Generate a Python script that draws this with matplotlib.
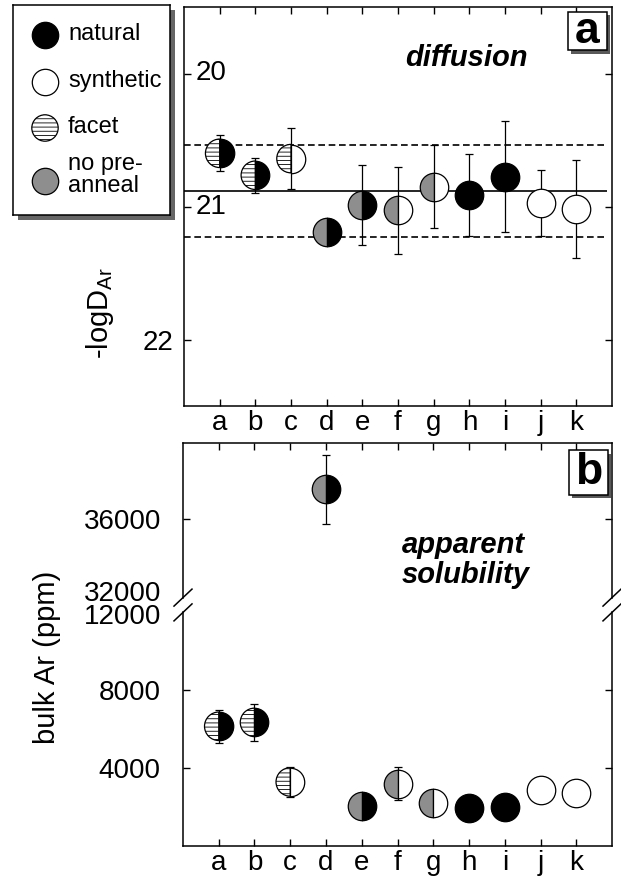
import numpy as np
import matplotlib
matplotlib.use('Agg')
import matplotlib.pyplot as plt
from matplotlib.path import Path
from matplotlib.transforms import Affine2D, blended_transform_factory
from matplotlib.patches import Rectangle
import matplotlib.patheffects as pe

plt.rcParams['font.family'] = ['Liberation Sans', 'DejaVu Sans']
plt.rcParams['mathtext.fontset'] = 'custom'
plt.rcParams['mathtext.rm'] = 'Liberation Sans'
plt.rcParams['mathtext.it'] = 'Liberation Sans:italic'
plt.rcParams['mathtext.bf'] = 'Liberation Sans:bold'
plt.rcParams['hatch.linewidth'] = 0.6

# sample data
samples = ['a', 'b', 'c', 'd', 'e', 'f', 'g', 'h', 'i', 'j', 'k']
left_type = ['facet', 'facet', 'facet', 'anneal', 'anneal', 'anneal', 'anneal',
             'natural', 'natural', 'synthetic', 'synthetic']
right_type = ['natural', 'natural', 'synthetic', 'natural', 'natural', 'synthetic',
              'synthetic', 'natural', 'natural', 'synthetic', 'synthetic']

logD = [20.60, 20.765, 20.64, 21.19, 20.99, 21.03, 20.85, 20.915, 20.775, 20.975, 21.02]
logD_err = [0.135, 0.13, 0.23, 0.0, 0.30, 0.33, 0.31, 0.31, 0.42, 0.25, 0.37]
logD_mean = 20.88
logD_band = [20.535, 21.23]

bulk_ar = [6150, 6350, 3290, 37530, 2060, 3200, 2210, 1960, 2010, 2860, 2740]
bulk_err = [860, 940, 770, 1750, 0, 850, 0, 0, 0, 0, 0]

legend_types = ['natural', 'synthetic', 'facet', 'anneal']
legend_labels = ['natural', 'synthetic', 'facet', 'no pre-\nanneal']

fills = {'natural': 'black', 'synthetic': 'white', 'facet': 'white', 'anneal': '#8e8e8e'}
hatches = {'natural': None, 'synthetic': None, 'facet': '----', 'anneal': None}

right_half = Path.unit_circle_righthalf()
left_half = right_half.transformed(Affine2D().rotate_deg(180))
msize = 20.5 ** 2
fs = 20

W, H = 621, 883
fig = plt.figure(figsize=(W / 100, H / 100), dpi=100)


def frac(left, top, right, bottom):
    return [left / W, 1 - bottom / H, (right - left) / W, (bottom - top) / H]


def draw_marker(ax, x, y, lt, rt, s=msize):
    if lt == rt:
        ax.scatter([x], [y], s=s, marker='o', facecolor=fills[lt], edgecolor='black',
                   linewidth=0.9, hatch=hatches[lt], zorder=3)
    else:
        ax.scatter([x], [y], s=s, marker=left_half, facecolor=fills[lt], edgecolor='black',
                   linewidth=0.9, hatch=hatches[lt], zorder=3)
        ax.scatter([x], [y], s=s, marker=right_half, facecolor=fills[rt], edgecolor='black',
                   linewidth=0.9, hatch=hatches[rt], zorder=3)


def style_axes(ax):
    for sp in ax.spines.values():
        sp.set_linewidth(1.1)
    ax.tick_params(direction='in', length=5, width=1, top=True, right=True,
                   labelsize=fs)


def panel_box(ax, x0, y0, w, h, letter):
    r = Rectangle((x0, y0), w, h, transform=ax.transAxes, facecolor='white',
                  edgecolor='black', linewidth=1.1, zorder=5, clip_on=False)
    r.set_path_effects([pe.withSimplePatchShadow(offset=(2.5, -2.5),
                                                 shadow_rgbFace='0.35', alpha=1)])
    ax.add_patch(r)
    ax.text(x0 + w / 2, y0 + h / 2, letter, transform=ax.transAxes, ha='center',
            va='center', fontsize=32, fontweight='bold', zorder=6)


x = np.arange(1, len(samples) + 1)

# ---- panel a: diffusion
ax1 = fig.add_axes(frac(184, 7, 612, 406))
style_axes(ax1)
ax1.set_xlim(0, 12)
ax1.set_ylim(22.5, 19.5)
ax1.set_xticks(x)
ax1.set_xticklabels(samples)
ax1.tick_params(axis='x', pad=3)
ax1.set_yticks([20, 21, 22])
ax1.set_yticklabels(['', '', '22'])
ax1.tick_params(axis='y', pad=8)
tr = blended_transform_factory(ax1.transAxes, ax1.transData)
for v in [20, 21]:
    ax1.text(0.026, v, str(v), transform=tr, ha='left', va='center', fontsize=fs)

ax1.hlines(logD_mean, 0, 11.85, colors='black', linewidth=1.2, zorder=1)
ax1.hlines(logD_band, 0, 11.85, colors='black', linewidth=1.2,
           linestyles=(0, (4, 2.2)), zorder=1)
err_idx = [i for i in range(len(x)) if logD_err[i] > 0]
ax1.errorbar(x[err_idx], np.array(logD)[err_idx], yerr=np.array(logD_err)[err_idx],
             fmt='none', ecolor='black', elinewidth=0.9, capsize=2.6, capthick=0.9, zorder=2)
for i in range(len(x)):
    draw_marker(ax1, x[i], logD[i], left_type[i], right_type[i])
ax1.text(0.659, 0.872, 'diffusion', transform=ax1.transAxes, ha='center', va='center',
         fontsize=21, fontweight='bold', fontstyle='italic')
panel_box(ax1, 0.897, 0.892, 0.091, 0.0955, 'a')

# ---- panel b: apparent solubility (broken axis)
ax2 = fig.add_axes(frac(183, 443, 612, 597.6))
ax3 = fig.add_axes(frac(183, 612.4, 612, 846))
for ax in (ax2, ax3):
    style_axes(ax)
    ax.set_xlim(0, 12)
    ax.set_xticks(x)
    ax.tick_params(axis='y', pad=16)
    err_idx = [i for i in range(len(x)) if bulk_err[i] > 0]
    ax.errorbar(x[err_idx], np.array(bulk_ar)[err_idx], yerr=np.array(bulk_err)[err_idx],
                fmt='none', ecolor='black', elinewidth=0.9, capsize=2.6, capthick=0.9, zorder=2)
    for i in range(len(x)):
        draw_marker(ax, x[i], bulk_ar[i], left_type[i], right_type[i])

ax2.set_ylim(32000, 39900)
ax2.set_yticks([32000, 36000])
ax2.set_yticklabels(['', '36000'])
ax2.spines['bottom'].set_visible(False)
ax2.tick_params(axis='x', bottom=False, labelbottom=False)
t = ax2.yaxis.get_major_ticks()[0]
t.tick1line.set_visible(False)
t.tick2line.set_visible(False)
ax2.annotate('32000', xy=(0, 32000), xycoords=('axes fraction', 'data'),
             xytext=(-16, 2.5), textcoords='offset points', ha='right', va='center',
             fontsize=fs, annotation_clip=False)

ax3.set_ylim(0, 12000)
ax3.set_yticks([4000, 8000, 12000])
ax3.set_yticklabels(['4000', '8000', ''])
ax3.set_xticklabels(samples)
ax3.tick_params(axis='x', top=False, pad=3)
ax3.spines['top'].set_visible(False)
t = ax3.yaxis.get_major_ticks()[-1]
t.tick1line.set_visible(False)
t.tick2line.set_visible(False)
ax3.annotate('12000', xy=(0, 12000), xycoords=('axes fraction', 'data'),
             xytext=(-16, -3), textcoords='offset points', ha='right', va='center',
             fontsize=fs, annotation_clip=False)

# break marks
dx = 9 / 429
for ax, ypos, hpx in ((ax2, 0, 154.6), (ax3, 1, 233.6)):
    dy = 8.5 / hpx
    for xpos in (0, 1):
        ax.plot([xpos - dx, xpos + dx], [ypos - dy, ypos + dy], transform=ax.transAxes,
                color='black', linewidth=1.1, clip_on=False)

ax2.text(0.51, 0.243, 'apparent\nsolubility', transform=ax2.transAxes, ha='left',
         va='center', fontsize=21, fontweight='bold', fontstyle='italic', linespacing=1.05)
panel_box(ax2, 0.899, 0.664, 0.091, 0.29, 'b')

# axis labels
fig.text(100 / W, 1 - 313 / H, r'-logD$_{\mathrm{Ar}}$', rotation=90, ha='center',
         va='center', fontsize=21)
fig.text(47 / W, 1 - 657 / H, 'bulk Ar (ppm)', rotation=90, ha='center', va='center',
         fontsize=21)

# legend box
axl = fig.add_axes(frac(13, 5, 170, 215))
axl.set_xlim(0, 157)
axl.set_ylim(210, 0)
axl.set_xticks([])
axl.set_yticks([])
for sp in axl.spines.values():
    sp.set_linewidth(1.1)
axl.patch.set_path_effects([pe.withSimplePatchShadow(offset=(3.5, -3.5),
                                                     shadow_rgbFace='0.4', alpha=1)])
leg_y = [30, 77, 123, 176]
for k in range(len(legend_types)):
    draw_marker(axl, 32, leg_y[k], legend_types[k], legend_types[k], s=19 ** 2)
    axl.text(55, leg_y[k] - (1 if k < 3 else 6), legend_labels[k], ha='left', va='center',
             fontsize=17, linespacing=0.95)

fig.savefig('out.png', dpi=100)
